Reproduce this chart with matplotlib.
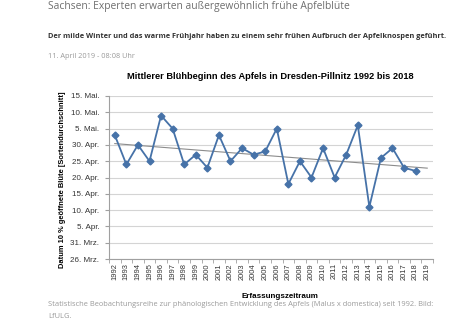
import matplotlib
matplotlib.use('Agg')
import matplotlib.pyplot as plt
import numpy as np

# Jahre (Kategorien) - 2019 ist leer
years = [str(y) for y in range(1992, 2020)]
# Bluehbeginn in Tagen nach dem 26. Maerz
bloom_day = [38, 29, 35, 30, 44, 40, 29, 32, 28, 38,
             30, 34, 32, 33, 40, 23, 30, 25, 34, 25,
             32, 41, 16, 31, 34, 28, 27]
y_ticks = [0, 5, 10, 15, 20, 25, 30, 35, 40, 45, 50]
y_labels = ["26. Mrz.", "31. Mrz.", "5. Apr.", "10. Apr.", "15. Apr.", "20. Apr.",
            "25. Apr.", "30. Apr.", "5. Mai.", "10. Mai.", "15. Mai."]

headline = "Sachsen: Experten erwarten außergewöhnlich frühe Apfelblüte"
teaser = "Der milde Winter und das warme Frühjahr haben zu einem sehr frühen Aufbruch der Apfelknospen geführt."
dateline = "11. April 2019 - 08:08 Uhr"
caption1 = "Statistische Beobachtungsreihe zur phänologischen Entwicklung des Apfels (Malus x domestica) seit 1992. Bild:"
caption2 = "LfULG."

W, H = 460, 323
fig = plt.figure(figsize=(W / 100, H / 100), dpi=100)
ax = fig.add_axes([109 / W, 1 - 259 / H, (433 - 109) / W, (259 - 96) / H])

x = np.arange(len(bloom_day))
ax.plot(x, bloom_day, color='#4672a8', lw=1.3, marker='D', markersize=3.5, zorder=3)

# linearer Trend, ein Jahr weiter
k, d = np.polyfit(x, bloom_day, 1)
xt = np.array([0, len(bloom_day)])
ax.plot(xt, k * xt + d, color='#8c8c8c', lw=0.8, zorder=2)

ax.set_xlim(-0.5, len(years) - 0.5)
ax.set_ylim(0, 50)
ax.set_yticks(y_ticks)
ax.set_yticklabels(y_labels, fontsize=5.8, family='Liberation Sans', color='#333333')
ax.set_xticks(np.arange(len(years)))
ax.set_xticklabels(years, rotation=90, fontsize=5.4, family='Liberation Sans', color='#333333')
ax.set_xticks(np.arange(len(years) + 1) - 0.5, minor=True)
ax.tick_params(axis='x', which='major', length=0, pad=3)
ax.tick_params(axis='x', which='minor', length=3, color='#a0a0a0')
ax.tick_params(axis='y', length=3, color='#a0a0a0', pad=4)
ax.grid(axis='y', color='#d4d4d4', lw=0.8)
ax.set_axisbelow(True)
for s in ['top', 'right']:
    ax.spines[s].set_visible(False)
for s in ['left', 'bottom']:
    ax.spines[s].set_color('#a0a0a0')
    ax.spines[s].set_linewidth(0.8)

fig.text(270 / W, 1 - 76 / H, "Mittlerer Blühbeginn des Apfels in Dresden-Pillnitz 1992 bis 2018",
         ha='center', va='center', fontsize=6.7, fontweight='bold', family='Liberation Sans')
fig.text(63 / W, 1 - 180 / H, "Datum 10 % geöffnete Blüte [Sortendurchschnitt]", rotation=90,
         ha='center', va='center', fontsize=5.4, fontweight='bold', family='Liberation Sans')
fig.text(280 / W, 1 - 296 / H, "Erfassungszeitraum",
         ha='center', va='center', fontsize=5.8, fontweight='bold', family='Liberation Sans')

fig.text(48 / W, 1 - 7 / H, headline, ha='left', va='center', fontsize=7.4,
         family='Open Sans', color='#6e6e6e')
fig.text(48 / W, 1 - 36 / H, teaser, ha='left', va='center', fontsize=5.35,
         family='Open Sans', fontweight='bold', color='#333333')
fig.text(48 / W, 1 - 56 / H, dateline, ha='left', va='center', fontsize=5.3,
         family='Open Sans', color='#9a9a9a')
fig.text(48 / W, 1 - 304 / H, caption1, ha='left', va='center', fontsize=5.4,
         family='Open Sans', color='#9a9a9a')
fig.text(48 / W, 1 - 317 / H, caption2, ha='left', va='center', fontsize=5.4,
         family='Open Sans', color='#9a9a9a')

plt.savefig('out.png', dpi=100)
